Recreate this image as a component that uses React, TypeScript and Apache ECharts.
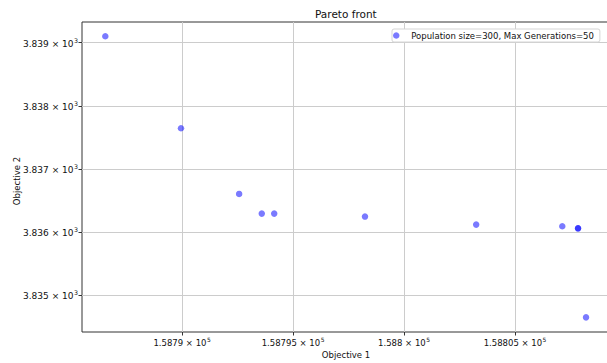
import React, { useEffect, useRef } from "react";
import * as echarts from "echarts";

const seriesName = "Population size=300, Max Generations=50";
const objective1 = [
  158786.54, 158789.95, 158792.57, 158793.59, 158794.15, 158798.24,
  158803.25, 158807.13, 158807.84, 158807.84, 158808.2,
];
const objective2 = [
  3839.103, 3837.645, 3836.605, 3836.293, 3836.293, 3836.246,
  3836.119, 3836.092, 3836.06, 3836.06, 3834.65,
];
const xTickValues = [158790, 158795, 158800, 158805];
const xTickMantissas = ["1.5879", "1.58795", "1.588", "1.58805"];
const xTickExponent = "5";
const yTickValues = [3835, 3836, 3837, 3838, 3839];
const yTickMantissas = ["3.835", "3.836", "3.837", "3.838", "3.839"];
const yTickExponent = "3";
const xRange = [158785.49, 158809.28];
const yRange = [3834.418, 3839.328];

const FONT = "DejaVu Sans";

function labelFor(values: number[], mantissas: string[], exp: string) {
  return (v: number) => {
    for (let i = 0; i < values.length; i++) {
      if (Math.abs(values[i] - v) < 1e-6) return `{b|${mantissas[i]} × 10}{s|${exp}}`;
    }
    return "";
  };
}

function makeRich(size: number) {
  return {
    b: { fontFamily: FONT, fontSize: size, color: "#111", lineHeight: 11, verticalAlign: "bottom" },
    s: { fontFamily: FONT, fontSize: size * 0.7, color: "#111", lineHeight: 11, verticalAlign: "top", padding: [0, 0, 0, 0.5] },
  };
}

export default function App() {
  const ref = useRef<HTMLDivElement>(null);
  useEffect(() => {
    if (!ref.current) return;
    const chart = echarts.init(ref.current, null, { renderer: "svg" });
    const data = objective1.map((x, i) => [x, objective2[i]]);
    chart.setOption({
      animation: false,
      backgroundColor: "#ffffff",
      textStyle: { fontFamily: FONT },
      title: {
        text: "Pareto front",
        left: 315,
        top: 8,
        padding: 0,
        textStyle: { fontFamily: FONT, fontSize: 10.5, fontWeight: "normal", color: "#111" },
      },
      legend: {
        left: 392,
        top: 29,
        padding: [2, 6, 2, 1],
        backgroundColor: "#ffffff",
        borderColor: "#d5d5d5",
        borderWidth: 1,
        borderRadius: 2,
        itemWidth: 20,
        itemHeight: 6.5,
        icon: "circle",
        textStyle: { fontFamily: FONT, fontSize: 8.5, color: "#111" },
        data: [seriesName],
      },
      grid: {
        left: 82,
        top: 22,
        width: 528,
        bottom: 31,
        outerBoundsMode: "none",
        containLabel: false,
        show: true,
        borderColor: "#333",
        borderWidth: 1,
        backgroundColor: "transparent",
      },
      xAxis: {
        type: "value",
        min: xRange[0],
        max: xRange[1],
        name: "Objective 1",
        nameLocation: "middle",
        nameGap: 18,
        nameMoveOverlap: false,
        nameTextStyle: { fontFamily: FONT, fontSize: 8.5, color: "#111" },
        axisLine: { show: false },
        axisTick: {
          show: true,
          inside: false,
          length: 3.5,
          lineStyle: { color: "#333" },
          customValues: xTickValues,
        },
        axisLabel: {
          customValues: xTickValues,
          formatter: labelFor(xTickValues, xTickMantissas, xTickExponent),
          margin: 4,
          rich: makeRich(8.5),
        },
        splitLine: { show: true, lineStyle: { color: "#cccccc", width: 1 } },
      },
      yAxis: {
        type: "value",
        min: yRange[0],
        max: yRange[1],
        name: "Objective 2",
        nameLocation: "middle",
        nameGap: 61,
        nameMoveOverlap: false,
        nameTextStyle: { fontFamily: FONT, fontSize: 8.5, color: "#111", padding: [0, 8, 0, 0] },
        axisLine: { show: false },
        axisTick: {
          show: true,
          inside: false,
          length: 3.5,
          lineStyle: { color: "#333" },
          customValues: yTickValues,
        },
        axisLabel: {
          customValues: yTickValues,
          formatter: labelFor(yTickValues, yTickMantissas, yTickExponent),
          margin: 4,
          rich: makeRich(9),
        },
        splitLine: { show: true, lineStyle: { color: "#cccccc", width: 1 } },
      },
      series: [
        {
          name: seriesName,
          type: "scatter",
          symbol: "circle",
          symbolSize: 6.5,
          itemStyle: { color: "rgba(0,0,255,0.65)" },
          data,
        },
      ],
    });
    return () => chart.dispose();
  }, []);
  return (
    <div
      ref={ref}
      style={{ position: "fixed", left: 0, top: 0, width: 607, height: 363, background: "#fff" }}
    />
  );
}
